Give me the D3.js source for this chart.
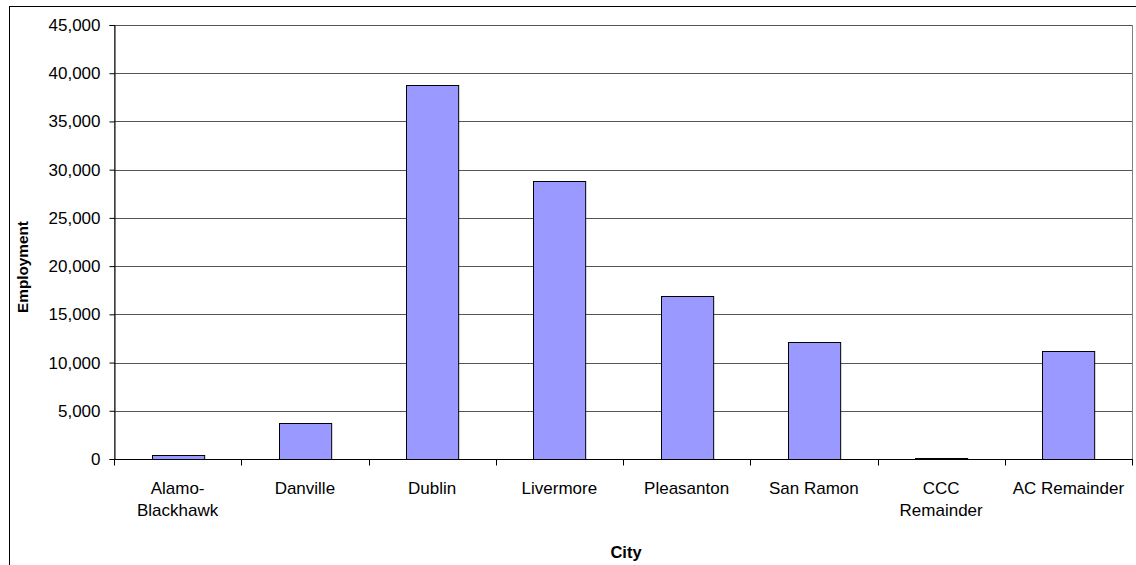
<!DOCTYPE html>
<html>
<head>
<meta charset="utf-8">
<script src="https://cdn.jsdelivr.net/npm/d3@7"></script>
<style>
  html, body { margin: 0; padding: 0; background: #fff; }
  svg { display: block; font-family: Arial, "Liberation Sans", sans-serif; }
</style>
</head>
<body>
<svg id="chart" width="1136" height="565"></svg>
<script>
// Employment by city
const categories = [
  ["Alamo-", "Blackhawk"],
  ["Danville"],
  ["Dublin"],
  ["Livermore"],
  ["Pleasanton"],
  ["San Ramon"],
  ["CCC", "Remainder"],
  ["AC Remainder"]
];
const employment = [420, 3780, 38750, 28830, 16930, 12100, 150, 11200];
const yTicks = [0, 5000, 10000, 15000, 20000, 25000, 30000, 35000, 40000, 45000];

const svg = d3.select("#chart");
const W = 1136, H = 565;
const tickFont = 17;

// outer chart frame (runs off the right and bottom edges)
svg.append("rect")
  .attr("x", 9.5).attr("y", 6.5)
  .attr("width", W).attr("height", H)
  .attr("fill", "#fff").attr("stroke", "#000").attr("stroke-width", 1);

const plot = { left: 114, right: 1132, top: 25, bottom: 459 };

const x = d3.scaleBand()
  .domain(d3.range(categories.length))
  .range([plot.left, plot.right])
  .paddingInner(0.59)
  .paddingOuter(0.295);

const xOuter = d3.scaleBand()
  .domain(d3.range(categories.length))
  .range([plot.left, plot.right]);

const y = d3.scaleLinear().domain([0, 45000]).range([plot.bottom, plot.top]);

// plot area frame
svg.append("rect")
  .attr("x", plot.left + 0.5).attr("y", plot.top + 0.5)
  .attr("width", plot.right - plot.left).attr("height", plot.bottom - plot.top)
  .attr("fill", "#fff").attr("stroke", "#808080").attr("stroke-width", 1);

// horizontal gridlines
svg.append("g")
  .selectAll("line")
  .data(yTicks.filter(d => d > 0))
  .join("line")
  .attr("x1", plot.left).attr("x2", plot.right)
  .attr("y1", d => Math.round(y(d)) + 0.5).attr("y2", d => Math.round(y(d)) + 0.5)
  .attr("stroke", "#555").attr("stroke-width", 1);

// bars
svg.append("g")
  .selectAll("rect")
  .data(employment)
  .join("rect")
  .attr("x", (d, i) => Math.round(x(i)) + 0.5)
  .attr("y", d => Math.round(y(d)) + 0.5)
  .attr("width", x.bandwidth())
  .attr("height", d => Math.max(0, Math.round(y(0)) - Math.round(y(d))))
  .attr("fill", "#9999FF")
  .attr("stroke", "#000").attr("stroke-width", 1);

// y axis
const yAxis = svg.append("g")
  .attr("transform", `translate(${plot.left + 0.5},0)`)
  .call(d3.axisLeft(y).tickValues(yTicks).tickSize(5).tickPadding(9)
    .tickFormat(d3.format(",")));
yAxis.select(".domain").attr("stroke", "#000");
yAxis.selectAll(".tick line").attr("stroke", "#000");
yAxis.selectAll(".tick text")
  .attr("font-size", tickFont).attr("fill", "#000")
  .attr("font-family", "Arial, 'Liberation Sans', sans-serif");

// x axis with ticks at category boundaries
const xAxisG = svg.append("g")
  .attr("transform", `translate(0,${plot.bottom + 0.5})`);
xAxisG.append("line")
  .attr("x1", plot.left).attr("x2", plot.right + 1)
  .attr("stroke", "#000");
xAxisG.selectAll("line.tk")
  .data(d3.range(categories.length + 1))
  .join("line")
  .attr("class", "tk")
  .attr("x1", i => Math.round(i < categories.length ? xOuter(i) : plot.right) + 0.5)
  .attr("x2", i => Math.round(i < categories.length ? xOuter(i) : plot.right) + 0.5)
  .attr("y1", 0).attr("y2", 6)
  .attr("stroke", "#000");

// category labels
const labels = xAxisG.selectAll("text.cat")
  .data(categories)
  .join("text")
  .attr("class", "cat")
  .attr("text-anchor", "middle")
  .attr("font-size", tickFont)
  .attr("fill", "#000");
labels.each(function (lines, i) {
  const cx = xOuter(i) + xOuter.bandwidth() / 2;
  d3.select(this).selectAll("tspan")
    .data(lines)
    .join("tspan")
    .attr("x", cx)
    .attr("y", (d, j) => 34 + j * 22)
    .text(d => d);
});

// axis titles
svg.append("text")
  .attr("x", (plot.left + plot.right) / 2 + 3)
  .attr("y", 558)
  .attr("text-anchor", "middle")
  .attr("font-size", 16.5).attr("font-weight", "bold")
  .text("City");

svg.append("text")
  .attr("transform", `translate(28,${(plot.top + plot.bottom) / 2 + 25}) rotate(-90)`)
  .attr("text-anchor", "middle")
  .attr("font-size", 15.3).attr("font-weight", "bold")
  .text("Employment");
</script>
</body>
</html>
